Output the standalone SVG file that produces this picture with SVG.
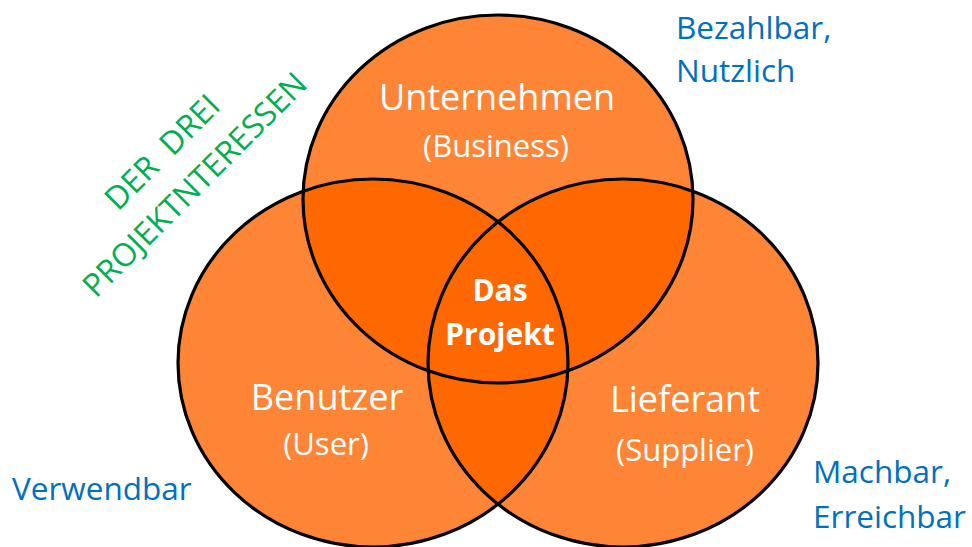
<svg xmlns="http://www.w3.org/2000/svg" xmlns:xlink="http://www.w3.org/1999/xlink" width="972" height="547" viewBox="0 0 972 547">
  <style>
    .fill { fill: #FE8535; stroke: none; }
    .overlap { fill: #FF6800; stroke: none; }
    .ring { fill: none; stroke: #000000; stroke-width: 3.2; }
    .lbl { font-family: "Open Sans", "Noto Sans", "Liberation Sans", sans-serif; fill: #FFFFFF; text-anchor: middle; }
    .big { font-size: 36px; }
    .sub { font-size: 31px; }
    .core { font-size: 30px; font-weight: bold; }
    .note { font-family: "Open Sans", "Noto Sans", "Liberation Sans", sans-serif; fill: #0070C0; font-size: 31.5px; }
    .title { font-family: "Open Sans", "Noto Sans", "Liberation Sans", sans-serif; fill: #00B050; font-size: 32px; text-anchor: middle; }
  </style>
  <defs>
    <ellipse id="eTop" cx="498" cy="199" rx="195" ry="184"/>
    <ellipse id="eLeft" cx="373" cy="363" rx="195" ry="184"/>
    <ellipse id="eRight" cx="623" cy="363" rx="195" ry="184"/>
    <clipPath id="cLeft"><use xlink:href="#eLeft"/></clipPath>
    <clipPath id="cRight"><use xlink:href="#eRight"/></clipPath>
  </defs>

  <g id="circle-fills">
    <use xlink:href="#eTop" class="fill"/>
    <use xlink:href="#eLeft" class="fill"/>
    <use xlink:href="#eRight" class="fill"/>
    <use xlink:href="#eTop" class="overlap" clip-path="url(#cLeft)"/>
    <use xlink:href="#eTop" class="overlap" clip-path="url(#cRight)"/>
    <use xlink:href="#eLeft" class="overlap" clip-path="url(#cRight)"/>
  </g>

  <g id="business">
    <use xlink:href="#eTop" class="ring"/>
    <text class="lbl big" x="497" y="110">Unternehmen</text>
    <text class="lbl sub" x="496" y="157">(Business)</text>
  </g>

  <g id="user">
    <use xlink:href="#eLeft" class="ring"/>
    <text class="lbl big" x="327" y="410">Benutzer</text>
    <text class="lbl sub" x="326" y="455">(User)</text>
  </g>

  <g id="supplier">
    <use xlink:href="#eRight" class="ring"/>
    <text class="lbl big" x="685" y="412">Lieferant</text>
    <text class="lbl sub" x="685" y="461">(Supplier)</text>
  </g>

  <g id="project">
    <text class="lbl core" x="500" y="301">Das</text>
    <text class="lbl core" x="500" y="345">Projekt</text>
  </g>

  <g id="connectors"></g>

  <g id="title" transform="translate(170,160) rotate(-45)">
    <text class="title" x="0" y="0" xml:space="preserve">DER  DREI</text>
    <text class="title" x="0" y="46">PROJEKTNTERESSEN</text>
  </g>

  <g id="note-business">
    <text class="note" x="676" y="39">Bezahlbar,</text>
    <text class="note" x="676" y="82">Nutzlich</text>
  </g>
  <g id="note-user">
    <text class="note" x="12" y="500">Verwendbar</text>
  </g>
  <g id="note-supplier">
    <text class="note" x="813" y="483">Machbar,</text>
    <text class="note" x="813" y="528">Erreichbar</text>
  </g>
</svg>
